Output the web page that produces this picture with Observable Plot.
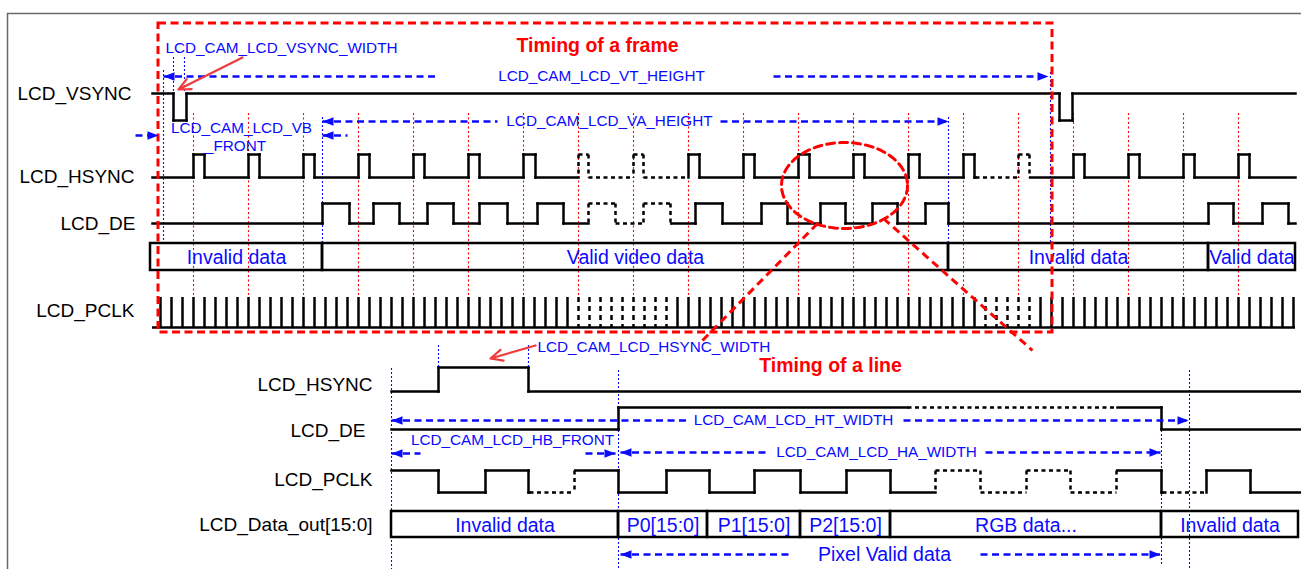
<!DOCTYPE html>
<html><head><meta charset="utf-8">
<script src="https://cdn.jsdelivr.net/npm/d3@7"></script>
<script src="https://cdn.jsdelivr.net/npm/@observablehq/plot@0.6"></script>
<style>body{margin:0;background:#fff;} svg{display:block}</style>
</head><body><div id="chart"></div>
<script>
// ================= DATA (time axis in diagram units) =================
// --- Timing of a frame ---
const frameSignals = ["LCD_VSYNC", "LCD_HSYNC", "LCD_DE", "LCD_PCLK"];
const frameStart = 152, frameEnd = 1295;
const vsyncToggles = [173, 186, 1059, 1072];            // starts high
const hsyncRise = [193,248,303,358,413,468,523,578,633,688,743,798,853,908,963,1018,1073,1128,1183,1238];
const hsyncFall = [204,259,314,369,424,479,535,588,643,699,754,809,864,919,974,1029,1084,1139,1194,1249];
const hsyncDashed = [[578, 688], [975, 1030]];
const deRise = [322,373,427,479,537,588,643,695,761,820,872,925,1208,1262];
const deFall = [349,399,453,507,563,615,670,722,787,845,897,948,1233,1288];
const deDashed = [[588, 671]];
const pclkTicks = [160,171,182,193,204,215,226,237,248,259,270,281,292,303,314,325,336,347,358,369,380,391,402,413,424,435,446,457,468,479,490,501,512,523,534,545,556,567,578,589,600,611,622,633,644,655,666,677,688,699,710,721,732,743,754,765,776,787,798,809,820,831,842,853,864,875,886,897,908,919,930,941,952,963,974,985,996,1007,1018,1029,1040,1051,1062,1073,1084,1095,1106,1117,1128,1139,1150,1161,1172,1183,1194,1205,1216,1227,1238,1249,1260,1271,1282,1293];
const pclkDashed = [[577, 667], [984, 1030]];
const frameBusEdges = [150, 322, 948, 1208, 1295];
const frameBusLabels = ["Invalid data", "Valid video data", "Invalid data", "Valid data"];
const frameMarkers = [163, 173, 184, 322, 948, 1050];     // blue dotted guides
const frameBox = [158, 1052];                              // red dashed "frame" window

// --- Timing of a line ---
const lineSignals = ["LCD_HSYNC", "LCD_DE", "LCD_PCLK", "LCD_Data_out[15:0]"];
const lineStart = 391, lineEnd = 1301;
const lineHsyncToggles = [438, 528];                       // starts low
const lineDeToggles = [618, 1161];                         // starts low
const lineDeDashed = [[907, 1117]];
const linePclkToggles = [438,485,528,574,618,666,709,754,800,846,890,935,980,1026,1070,1116,1161,1206,1250]; // starts high
const linePclkDashed = [[529, 575], [935, 1117], [1162, 1206]];
const lineBusEdges = [391, 618, 707, 800, 890, 1161, 1298];
const lineBusLabels = ["Invalid data", "P0[15:0]", "P1[15:0]", "P2[15:0]", "RGB data...", "Invalid data"];
const lineMarkers = [391, 438, 528, 618, 1161, 1189];

// --- register annotations (blue dashed dimension arrows) ---
const dimNames = ["LCD_CAM_LCD_VT_HEIGHT","LCD_CAM_LCD_VA_HEIGHT","LCD_CAM_LCD_VB","LCD_CAM_LCD_HT_WIDTH","LCD_CAM_LCD_HB_FRONT","LCD_CAM_LCD_HA_WIDTH","Pixel Valid data"];
const dimFrom = [163, 322, 135, 391, 391, 620, 620];
const dimTo   = [1048, 948, 347, 1188, 615, 1160, 1160];
const dimGapFrom = [437, 497, 158, 687, 420, 767, 788];
const dimGapTo   = [773, 720, 322, 903, 585, 985, 980];
const pointerNames = ["LCD_CAM_LCD_VSYNC_WIDTH", "LCD_CAM_LCD_HSYNC_WIDTH"];

// ================= LAYOUT =================
const W = 1301, H = 569;
const FONT = "'Liberation Sans', Arial, Helvetica, sans-serif";
const BLUE = "#0a0aff", RED = "#ff0000";
const rowsF = {vs: [93, 120], hs: [154, 177], de: [203, 223], bus: [243, 270], pclk: [297, 327]};
const rowsL = {hs: [367, 391], de: [407, 429], pclk: [470, 492], bus: [511, 537]};
const labelYF = [93, 176, 223, 310], labelXF = [131, 134, 135, 134];
const labelYL = [384, 430, 479, 524], labelXL = [372, 365, 372, 372];
const dimY = [76, 121, 135, 420, 453, 452, 554];
const dimHead = [["L","R"],["L","R"],["R","L"],["L","R"],["L","R"],["L","R"],["L","R"]];
const markerSpanF = [[70,240],[57,93],[57,93],[117,243],[117,243],[72,243]];
const markerSpanL = [[368,569],[345,367],[345,390],[370,569],[430,565],[370,569]];

// ================= HELPERS =================
function wave(start, end, toggles, startLevel, dashed, yHi, yLo) {
  const segs = [];
  const isD = t => dashed.some(([a, b]) => t >= a && t < b);
  let level = startLevel, prev = start;
  const pts = [...toggles, end];
  pts.forEach((t, i) => {
    const cuts = [prev, ...dashed.flat().filter(c => c > prev && c < t), t].sort((a, b) => a - b);
    for (let k = 0; k < cuts.length - 1; k++) {
      const a = cuts[k], b = cuts[k + 1];
      const yy = level ? yHi : yLo;
      segs.push({x1: a, x2: b, y1: yy, y2: yy, d: isD((a + b) / 2)});
    }
    if (i < toggles.length) { segs.push({x1: t, x2: t, y1: yHi, y2: yLo, d: isD(t)}); level = 1 - level; }
    prev = t;
  });
  return segs;
}
const merge = (a, b) => [...a, ...b].sort((p, q) => p - q);

const segs = [
  ...wave(frameStart, frameEnd, vsyncToggles, 1, [], ...rowsF.vs),
  ...wave(frameStart, frameEnd, merge(hsyncRise, hsyncFall), 0, hsyncDashed, ...rowsF.hs),
  ...wave(frameStart, frameEnd, merge(deRise, deFall), 0, deDashed, ...rowsF.de),
  ...wave(lineStart, lineEnd, lineHsyncToggles, 0, [], ...rowsL.hs),
  ...wave(lineStart, lineEnd, lineDeToggles, 0, lineDeDashed, ...rowsL.de),
  ...wave(lineStart, lineEnd, linePclkToggles, 1, linePclkDashed, ...rowsL.pclk),
];

const busCells = [];
frameBusLabels.forEach((l, i) => busCells.push({x1: frameBusEdges[i], x2: frameBusEdges[i+1], y1: rowsF.bus[0], y2: rowsF.bus[1], label: l}));
lineBusLabels.forEach((l, i) => busCells.push({x1: lineBusEdges[i], x2: lineBusEdges[i+1], y1: rowsL.bus[0], y2: rowsL.bus[1], label: l}));

const inR = (t, rs) => rs.some(([a, b]) => t >= a && t <= b);
const ticksSolid = pclkTicks.filter(t => !inR(t, pclkDashed));
const ticksDashed = pclkTicks.filter(t => inR(t, pclkDashed));

const markers = [
  ...frameMarkers.map((t, i) => ({x: t, y1: markerSpanF[i][0], y2: markerSpanF[i][1]})),
  ...lineMarkers.map((t, i) => ({x: t, y1: markerSpanL[i][0], y2: markerSpanL[i][1]})),
];

const dimLines = [], dimHeads = [];
dimNames.forEach((n, i) => {
  const y = dimY[i];
  const [hl, hr] = dimHead[i];
  dimLines.push({x1: dimFrom[i], x2: dimGapFrom[i], y});
  dimLines.push({x1: dimGapTo[i], x2: dimTo[i], y});
  if (hl === "L") dimHeads.push({x: dimFrom[i], y, rot: 180});
  else dimHeads.push({x: dimGapFrom[i], y, rot: 0});
  if (hr === "R") dimHeads.push({x: dimTo[i], y, rot: 0});
  else dimHeads.push({x: dimGapTo[i], y, rot: 180});
});
const arrowHead = {draw(ctx) { ctx.moveTo(0, 0); ctx.lineTo(-11, -4.2); ctx.lineTo(-11, 4.2); ctx.closePath(); }};

const blueTextsMid = [
  {x: 601, y: 76, t: dimNames[0]},
  {x: 609, y: 121, t: dimNames[1]},
  {x: 241, y: 128, t: dimNames[2]},
  {x: 235, y: 146, t: "_FRONT"},
  {x: 793, y: 420, t: dimNames[3]},
  {x: 512, y: 440, t: dimNames[4]},
  {x: 876, y: 452, t: dimNames[5]},
];
const blueTextsStart = [
  {x: 165, y: 48, t: pointerNames[0]},
  {x: 537, y: 347, t: pointerNames[1]},
];

const ellipse = d3.range(0, 361, 3).map(a => ({x: 844 + 63 * Math.cos(a * Math.PI / 180), y: 185 + 43 * Math.sin(a * Math.PI / 180)}));
const zoomLinks = [{x1: 817, y1: 223, x2: 699, y2: 343}, {x1: 883, y1: 218, x2: 1032, y2: 350}];
const redArrows = [{x1: 242, y1: 57, x2: 178, y2: 89}, {x1: 535, y1: 345, x2: 490, y2: 358}];

const labels = [
  ...frameSignals.map((s, i) => ({x: labelXF[i], y: labelYF[i], t: s})),
  ...lineSignals.map((s, i) => ({x: labelXL[i], y: labelYL[i], t: s})),
];

const chart = Plot.plot({
  width: W, height: H, margin: 0,
  x: {domain: [0, W], range: [0, W], axis: null},
  y: {domain: [0, H], range: [0, H], axis: null},
  style: {fontFamily: FONT, background: "white", overflow: "hidden"},
  marks: [
    Plot.ruleY([13], {x1: 7, x2: W, stroke: "#6a6a6a", strokeWidth: 1.5}),
    Plot.ruleX([7], {y1: 13, y2: H, stroke: "#6a6a6a", strokeWidth: 1.5}),
    Plot.ruleX(hsyncRise, {y1: 113, y2: 297, stroke: RED, strokeWidth: 1.1, strokeDasharray: "2,2.5"}),
    Plot.ruleX(markers, {x: "x", y1: "y1", y2: "y2", stroke: BLUE, strokeWidth: 1.1, strokeDasharray: "2,2"}),
    Plot.link(segs.filter(s => !s.d), {x1: "x1", y1: "y1", x2: "x2", y2: "y2", stroke: "black", strokeWidth: 2.5, strokeLinecap: "square"}),
    Plot.link(segs.filter(s => s.d), {x1: "x1", y1: "y1", x2: "x2", y2: "y2", stroke: "black", strokeWidth: 2.5, strokeDasharray: "4,3.5"}),
    Plot.ruleY([rowsF.pclk[1]], {x1: frameStart, x2: frameEnd, stroke: "black", strokeWidth: 2.5}),
    Plot.ruleX(ticksSolid, {y1: rowsF.pclk[0], y2: rowsF.pclk[1], stroke: "black", strokeWidth: 2.5}),
    Plot.ruleX(ticksDashed, {y1: rowsF.pclk[0], y2: rowsF.pclk[1], stroke: "black", strokeWidth: 2.5, strokeDasharray: "5,4"}),
    Plot.rect(busCells, {x1: "x1", x2: "x2", y1: "y1", y2: "y2", fill: "none", stroke: "black", strokeWidth: 2.5}),
    Plot.text(busCells, {x: d => (d.x1 + d.x2) / 2, y: d => (d.y1 + d.y2) / 2 + 1, text: "label", fill: BLUE, fontSize: 19.5}),
    Plot.rect([0], {x1: frameBox[0], x2: frameBox[1], y1: 23, y2: 332, fill: "none", stroke: RED, strokeWidth: 3, strokeDasharray: "8,4.5"}),
    Plot.line(ellipse, {x: "x", y: "y", stroke: RED, strokeWidth: 3, strokeDasharray: "8,5"}),
    Plot.link(zoomLinks, {x1: "x1", y1: "y1", x2: "x2", y2: "y2", stroke: RED, strokeWidth: 3, strokeDasharray: "8,5"}),
    Plot.link(dimLines, {x1: "x1", x2: "x2", y1: "y", y2: "y", stroke: BLUE, strokeWidth: 2.5, strokeDasharray: "7,4.5"}),
    Plot.dot(dimHeads, {x: "x", y: "y", rotate: "rot", symbol: arrowHead, fill: BLUE, stroke: null}),
    Plot.text(blueTextsMid, {x: "x", y: "y", text: "t", textAnchor: "middle", fill: BLUE, fontSize: 15.3}),
    Plot.text(blueTextsStart, {x: "x", y: "y", text: "t", textAnchor: "start", fill: BLUE, fontSize: 15.3}),
    Plot.text([{x: 884, y: 554, t: dimNames[6]}], {x: "x", y: "y", text: "t", fill: BLUE, fontSize: 19.5}),
    Plot.arrow(redArrows, {x1: "x1", y1: "y1", x2: "x2", y2: "y2", stroke: "#f03c3c", strokeWidth: 2.2, headLength: 9, headAngle: 50}),
    Plot.text([{x: 597, y: 45, t: "Timing of a frame"}, {x: 830, y: 365, t: "Timing of a line"}], {x: "x", y: "y", text: "t", fill: RED, fontSize: 19.5, fontWeight: "bold"}),
    Plot.text(labels, {x: "x", y: "y", text: "t", textAnchor: "end", fill: "black", fontSize: 19}),
  ]
});
document.getElementById("chart").appendChild(chart);
</script>
</body></html>
